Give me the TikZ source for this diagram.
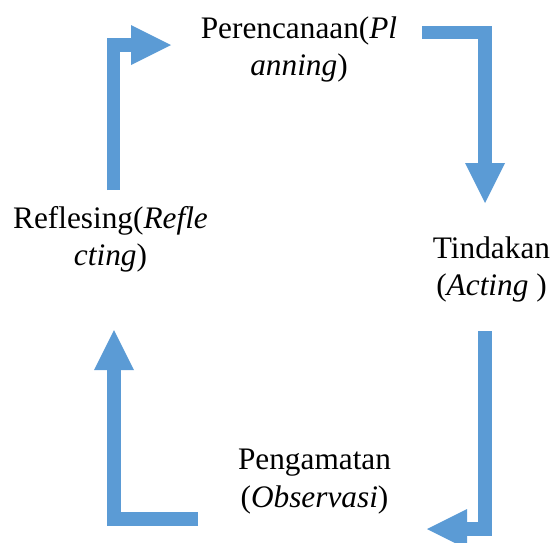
\documentclass[tikz,border=0pt]{standalone}
\usepackage{fontspec}
\setmainfont{Liberation Serif}
\usetikzlibrary{arrows.meta}
\definecolor{cycleblue}{HTML}{5B9BD5}

\begin{document}
\begin{tikzpicture}[x=1pt, y=-1pt,
  stage/.style={align=center, inner sep=0pt,
                font=\fontsize{31.3}{37.5}\selectfont},
  cyclearrow/.style={cycleblue, line width=13.5pt, line join=miter,
                     -{Triangle[length=40pt, width=40pt, line width=0pt]}}]
  \useasboundingbox (0,0) rectangle (552,542);
  %--- stages ---
  \node[stage] (plan) at (299,49.5) {Perencanaan(\textit{Pl}\\\textit{anning})};
  \node[stage] (act) at (491.5,269.5) {Tindakan\\(\textit{Acting} )};
  \node[stage] (obs) at (314.5,481.5) {Pengamatan\\(\textit{Observasi})};
  \node[stage] (refl) at (110.5,239.5) {Reflesing(\textit{Refle}\\\textit{cting})};
  %--- arrow ends ---
  \coordinate (refl-out) at (113.5,190);
  \coordinate (plan-in) at (171,45);
  \coordinate (plan-out) at (422,32.5);
  \coordinate (act-in) at (485,203);
  \coordinate (act-out) at (485,331);
  \coordinate (obs-in) at (427,529);
  \coordinate (obs-out) at (198,519);
  \coordinate (refl-in) at (114,330);
  %--- cycle arrows ---
  \draw[cyclearrow] (refl-out) |- (plan-in);
  \draw[cyclearrow] (plan-out) -| (act-in);
  \draw[cyclearrow] (act-out) |- (obs-in);
  \draw[cyclearrow] (obs-out) -| (refl-in);
\end{tikzpicture}
\end{document}
